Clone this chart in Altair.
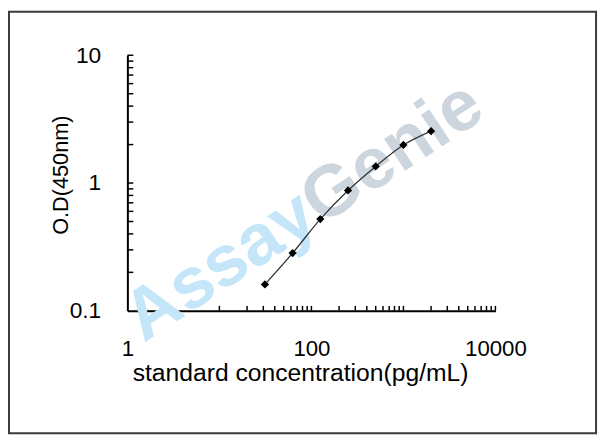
import altair as alt
import pandas as pd

# standard curve readings
conc = [31.25, 62.5, 125, 250, 500, 1000, 2000]
od = [0.161, 0.283, 0.522, 0.875, 1.349, 1.986, 2.548]

x_labels = [1, 100, 10000]
y_labels = [0.1, 1, 10]
x_minor = [10, 20, 30, 40, 50, 60, 70, 80, 90, 100,
           200, 300, 400, 500, 600, 700, 800, 900, 1000,
           2000, 3000, 4000, 5000, 6000, 7000, 8000, 9000, 10000]
y_minor = [0.2, 0.3, 0.4, 0.5, 0.6, 0.7, 0.8, 0.9, 1,
           2, 3, 4, 5, 6, 7, 8, 9, 10]

W, H = 373, 259
FONT = "Liberation Sans"

curve = pd.DataFrame({"conc": conc, "od": od})
one = pd.DataFrame({"k": [0]})

xscale = alt.Scale(type="log", domain=[1, 10000])
yscale = alt.Scale(type="log", domain=[0.1, 10])

x_axis = alt.Axis(
    values=x_labels, format="~g", grid=False, ticks=False, tickSize=0,
    domainColor="black", domainWidth=2, labelFont=FONT, labelFontSize=22.5,
    labelColor="black", labelPadding=27, labelFlush=False,
    title="standard concentration(pg/mL)", titleFont=FONT, titleFontSize=25,
    titleFontWeight="normal", titleColor="black", titleX=175, titleY=71,
    titleAlign="center", titleBaseline="alphabetic",
)
y_axis = alt.Axis(
    values=y_labels, format="~g", grid=False, ticks=False, tickSize=0,
    domainColor="black", domainWidth=2, labelFont=FONT, labelFontSize=23,
    labelColor="black", labelPadding=27, labelFlush=False,
    title="O.D(450nm)", titleFont=FONT, titleFontSize=22,
    titleFontWeight="normal", titleColor="black", titleAngle=270,
    titleX=-68, titleY=121, titleAlign="center", titleBaseline="middle",
)

border = alt.Chart(one).mark_rect(fill="white", fillOpacity=0, stroke="#3a3a3a", strokeWidth=2).encode(
    x=alt.value(-120), x2=alt.value(475), y=alt.value(-44), y2=alt.value(383)
)

mark_assay = alt.Chart(one).mark_text(
    text="Assay", font=FONT, fontSize=73, fontWeight="bold", color="#c4e6f8",
    angle=326.6, align="right", baseline="middle",
).encode(x=alt.value(184), y=alt.value(155))
mark_genie = alt.Chart(one).mark_text(
    text="Genie", font=FONT, fontSize=73, fontWeight="bold", color="#cdd6de",
    angle=326.6, align="left", baseline="middle",
).encode(x=alt.value(184), y=alt.value(155))

xticks = alt.Chart(pd.DataFrame({"conc": x_minor})).mark_rule(color="black", strokeWidth=1.5).encode(
    x=alt.X("conc:Q", scale=xscale, axis=x_axis), y=alt.value(H), y2=alt.value(H - 5)
)
yticks = alt.Chart(pd.DataFrame({"od": y_minor})).mark_rule(color="black", strokeWidth=1.5).encode(
    y=alt.Y("od:Q", scale=yscale, axis=y_axis), x=alt.value(0), x2=alt.value(6)
)

base = alt.Chart(curve).encode(
    x=alt.X("conc:Q", scale=xscale, axis=x_axis),
    y=alt.Y("od:Q", scale=yscale, axis=y_axis),
)
line = base.mark_line(interpolate="catmull-rom", color="#333333", strokeWidth=1.3)
points = base.mark_point(shape="diamond", filled=True, color="black", size=70, opacity=1)

chart = alt.layer(border, mark_assay, mark_genie, line, points, xticks, yticks).properties(
    width=W, height=H,
    background="white",
    autosize=alt.AutoSizeParams(type="none"),
    padding={"left": 121, "top": 45, "right": 106, "bottom": 126},
).configure_view(stroke="transparent", strokeWidth=0)

chart.save("out.html", embed_options={"renderer": "svg", "actions": False})
